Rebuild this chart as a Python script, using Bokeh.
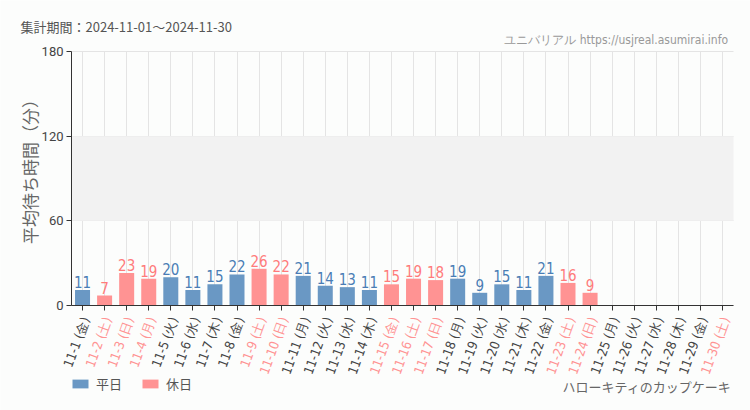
from bokeh.plotting import figure
from bokeh.models import (ColumnDataSource, Range1d, BoxAnnotation, FixedTicker,
                          Legend, LegendItem)
from bokeh.core.properties import value
from bokeh.embed import file_html
from bokeh.resources import INLINE

dates = [f"11-{d}" for d in range(1, 31)]
weekdays = (["金", "土", "日", "月", "火", "水", "木"] * 5)[:30]
holiday = [False, True, True, True, False, False, False, False, True, True,
           False, False, False, False, True, True, True, False, False, False,
           False, False, True, True, False, False, False, False, False, True]
values = [11, 7, 23, 19, 20, 11, 15, 22, 26, 22, 21, 14, 13, 11, 15, 19, 18,
          19, 9, 15, 11, 21, 16, 9]
y_ticks = [0, 60, 120, 180]
y_max = 180

BLUE = "#6a98c4"
PINK = "#ff9393"
BLUE_T = "#4a7db5"
PINK_T = "#ff7b7b"
BG = "#fcfdfc"
COND = "DejaVu Sans Condensed, Roboto, sans-serif"
JP = "Noto Sans CJK JP"

W, H = 750, 410
# frame of the bar area in canvas pixels
FL, FR, FT, FB = 71, 733, 51, 305
n = len(dates)
slot = (FR - FL) / n
ppu = (FB - FT) / y_max          # pixels per minute


def dx(px):                       # canvas px -> data x
    return -0.5 + (px - FL) / slot


def dy(py):                       # canvas px -> data y
    return (FB - py) / ppu


labels = [f"{d} ({w})" for d, w in zip(dates, weekdays)]
idx = list(range(n))

p = figure(x_range=Range1d(dx(0), dx(W)), y_range=Range1d(dy(H), dy(0)),
           width=W, height=H, output_backend="svg", toolbar_location=None,
           min_border=0, min_border_left=0, min_border_right=0,
           min_border_top=0, min_border_bottom=0,
           background_fill_color=BG, border_fill_color=BG,
           outline_line_color=None)

p.add_layout(BoxAnnotation(bottom=60, top=120, left=-0.5, right=n - 0.5,
                           fill_color="#f2f2f2", fill_alpha=1, line_color=None,
                           level="underlay"))

wd = dict(x=[], v=[], t=[])
hd = dict(x=[], v=[], t=[])
for i, v in enumerate(values):
    tgt = hd if holiday[i] else wd
    tgt["x"].append(idx[i])
    tgt["v"].append(v)
    tgt["t"].append(str(v))
src_w = ColumnDataSource(wd)
src_h = ColumnDataSource(hd)

rw = p.vbar(x="x", top="v", width=0.68, source=src_w, fill_color=BLUE,
            line_color=None)
rh = p.vbar(x="x", top="v", width=0.68, source=src_h, fill_color=PINK,
            line_color=None)

for src, col in ((src_w, BLUE_T), (src_h, PINK_T)):
    p.text(x="x", y="v", text="t", source=src, y_offset=-2,
           text_align="center", text_baseline="bottom", text_color=col,
           text_font=value(COND), text_font_size="15px")

# x tick labels (colored per day type)
lab = ColumnDataSource(dict(
    x=[i + 3 / slot for i in idx],
    y=[dy(FB + 12)] * n,
    t=labels,
    c=[PINK if h else "#444444" for h in holiday]))
p.text(x="x", y="y", text="t", source=lab, angle=70, angle_units="deg",
       text_align="right", text_baseline="middle", text_color="c",
       text_font=value(COND), text_font_size="13px")

# axes
p.xaxis.fixed_location = 0
p.xaxis.bounds = (-0.5, n - 0.5)
p.xaxis.ticker = FixedTicker(ticks=idx)
p.xaxis.major_label_overrides = {i: "" for i in idx}
p.xaxis.major_label_text_font_size = "1px"
p.xaxis.major_label_standoff = 0
p.xaxis.major_tick_out = 5
p.xaxis.major_tick_in = 0
p.xaxis.axis_line_color = "#333333"
p.xaxis.major_tick_line_color = "#333333"
p.xaxis.minor_tick_line_color = None

p.yaxis.fixed_location = -0.5
p.yaxis.bounds = (0, y_max)
p.yaxis.ticker = FixedTicker(ticks=y_ticks)
p.yaxis.major_label_text_font = "Roboto"
p.yaxis.major_label_text_font_size = "13px"
p.yaxis.major_label_text_color = "#444444"
p.yaxis.major_label_standoff = 3
p.yaxis.axis_line_color = "#333333"
p.yaxis.major_tick_line_color = "#333333"
p.yaxis.major_tick_out = 5
p.yaxis.major_tick_in = 0
p.yaxis.minor_tick_line_color = None

# y axis title
p.text(x=[dx(29)], y=[dy(167)], text=["平均待ち時間（分）"], angle=90,
       angle_units="deg", text_align="center", text_baseline="middle",
       text_color="#666666", text_font=value(JP), text_font_size="17px")

p.xgrid.ticker = FixedTicker(ticks=idx)
p.xgrid.bounds = (-0.5, n - 0.5)
p.xgrid.cross_bounds = (0, y_max)
p.xgrid.grid_line_color = "#e4e4e4"
p.ygrid.ticker = FixedTicker(ticks=y_ticks)
p.ygrid.bounds = (0, y_max)
p.ygrid.cross_bounds = (-0.5, n - 0.5)
p.ygrid.grid_line_color = "#e4e4e4"

legend = Legend(items=[LegendItem(label="平日", renderers=[rw]),
                       LegendItem(label="休日", renderers=[rh])],
                orientation="horizontal", location=(70, 17),
                background_fill_alpha=0, border_line_color=None,
                label_text_font=JP, label_text_font_size="13px",
                label_text_color="#555555", glyph_width=20, glyph_height=11,
                label_standoff=6, spacing=18, padding=0, margin=0)
p.add_layout(legend, "center")

notes = ColumnDataSource(dict(
    x=[dx(20), dx(731), dx(731)],
    y=[dy(26), dy(39), dy(386)],
    t=["集計期間：2024-11-01～2024-11-30",
       "ユニバリアル  https://usjreal.asumirai.info",
       "ハローキティのカップケーキ"],
    a=["left", "right", "right"],
    c=["#555555", "#999999", "#666666"],
    f=[JP, COND, JP],
    s=["13px", "12px", "13px"]))
p.text(x="x", y="y", text="t", source=notes, text_align="a",
       text_baseline="middle", text_color="c", text_font="f",
       text_font_size="s")

open("out.html", "w").write(file_html(p, INLINE))
